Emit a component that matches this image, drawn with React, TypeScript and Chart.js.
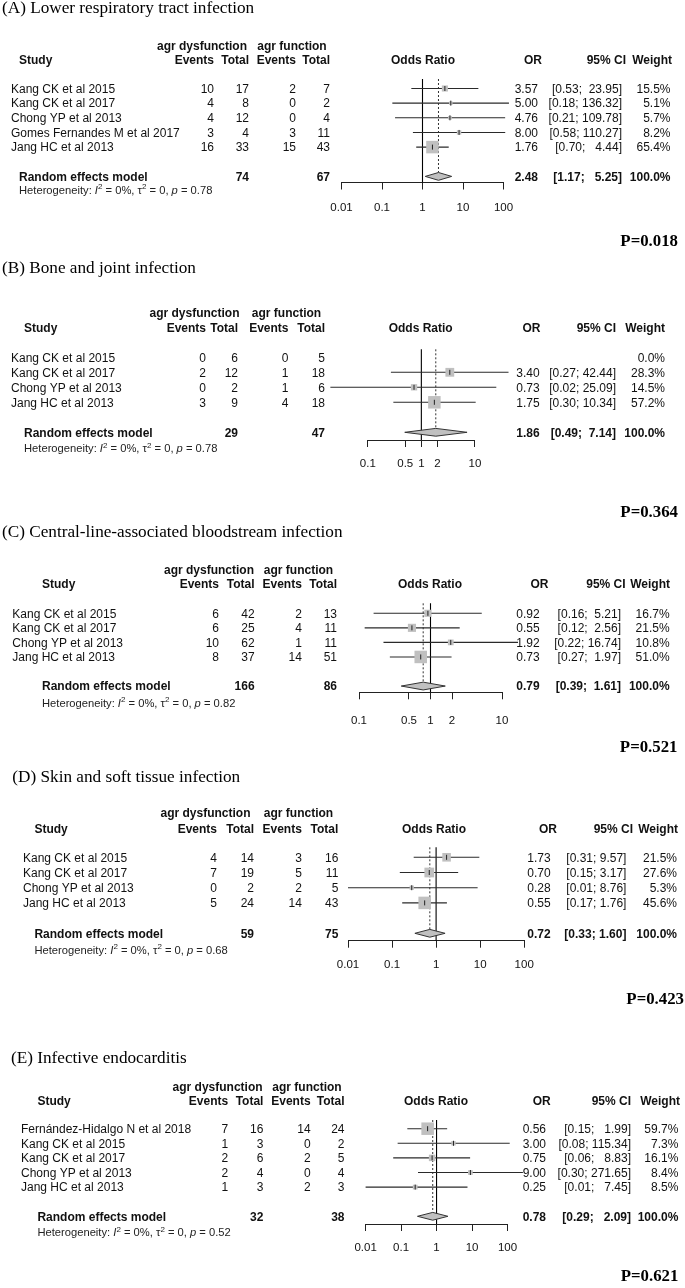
import React, { useEffect, useRef } from "react";
import { Chart, registerables } from "chart.js";

Chart.register(...registerables);

const SANS = '"Liberation Sans", Arial, Helvetica, sans-serif';
const SERIF = '"Liberation Serif", "Times New Roman", serif';

// ---------- shared ----------
const panelTitles = [
  "(A) Lower respiratory tract infection",
  "(B) Bone and joint infection",
  "(C) Central-line-associated bloodstream infection",
  "(D) Skin and soft tissue infection",
  "(E) Infective endocarditis",
];
const overallP = [0.018, 0.364, 0.521, 0.423, 0.621];

const ticksWide = [0.01, 0.1, 1, 10, 100];
const tickLabelsWide = ["0.01", "0.1", "1", "10", "100"];
const ticksNarrow = [0.1, 0.5, 1, 2, 10];
const tickLabelsNarrow = ["0.1", "0.5", "1", "2", "10"];

// ---------- (A) Lower respiratory tract infection ----------
const studiesA = ["Kang CK et al 2015", "Kang CK et al 2017", "Chong YP et al 2013", "Gomes Fernandes M et al 2017", "Jang HC et al 2013"];
const eventsDysA = [10, 4, 4, 3, 16];
const totalDysA = [17, 8, 12, 4, 33];
const eventsFunA = [2, 0, 0, 3, 15];
const totalFunA = [7, 2, 4, 11, 43];
const orA = [3.57, 5.0, 4.76, 8.0, 1.76];
const lowA = [0.53, 0.18, 0.21, 0.58, 0.7];
const highA = [23.95, 136.32, 109.78, 110.27, 4.44];
const weightA = [15.5, 5.1, 5.7, 8.2, 65.4];
const summaryA = [2.48, 1.17, 5.25];
const totalsA = [74, 67];
const hetA = [0, 0, 0.78];

// ---------- (B) Bone and joint infection ----------
const studiesB = ["Kang CK et al 2015", "Kang CK et al 2017", "Chong YP et al 2013", "Jang HC et al 2013"];
const eventsDysB = [0, 2, 0, 3];
const totalDysB = [6, 12, 2, 9];
const eventsFunB = [0, 1, 1, 4];
const totalFunB = [5, 18, 6, 18];
const orB = [null, 3.4, 0.73, 1.75];
const lowB = [null, 0.27, 0.02, 0.3];
const highB = [null, 42.44, 25.09, 10.34];
const weightB = [0.0, 28.3, 14.5, 57.2];
const summaryB = [1.86, 0.49, 7.14];
const totalsB = [29, 47];
const hetB = [0, 0, 0.78];

// ---------- (C) Central-line-associated bloodstream infection ----------
const studiesC = ["Kang CK et al 2015", "Kang CK et al 2017", "Chong YP et al 2013", "Jang HC et al 2013"];
const eventsDysC = [6, 6, 10, 8];
const totalDysC = [42, 25, 62, 37];
const eventsFunC = [2, 4, 1, 14];
const totalFunC = [13, 11, 11, 51];
const orC = [0.92, 0.55, 1.92, 0.73];
const lowC = [0.16, 0.12, 0.22, 0.27];
const highC = [5.21, 2.56, 16.74, 1.97];
const weightC = [16.7, 21.5, 10.8, 51.0];
const summaryC = [0.79, 0.39, 1.61];
const totalsC = [166, 86];
const hetC = [0, 0, 0.82];

// ---------- (D) Skin and soft tissue infection ----------
const studiesD = ["Kang CK et al 2015", "Kang CK et al 2017", "Chong YP et al 2013", "Jang HC et al 2013"];
const eventsDysD = [4, 7, 0, 5];
const totalDysD = [14, 19, 2, 24];
const eventsFunD = [3, 5, 2, 14];
const totalFunD = [16, 11, 5, 43];
const orD = [1.73, 0.7, 0.28, 0.55];
const lowD = [0.31, 0.15, 0.01, 0.17];
const highD = [9.57, 3.17, 8.76, 1.76];
const weightD = [21.5, 27.6, 5.3, 45.6];
const summaryD = [0.72, 0.33, 1.6];
const totalsD = [59, 75];
const hetD = [0, 0, 0.68];

// ---------- (E) Infective endocarditis ----------
const studiesE = ["Fernández-Hidalgo N et al 2018", "Kang CK et al 2015", "Kang CK et al 2017", "Chong YP et al 2013", "Jang HC et al 2013"];
const eventsDysE = [7, 1, 2, 2, 1];
const totalDysE = [16, 3, 6, 4, 3];
const eventsFunE = [14, 0, 2, 0, 2];
const totalFunE = [24, 2, 5, 4, 3];
const orE = [0.56, 3.0, 0.75, 9.0, 0.25];
const lowE = [0.15, 0.08, 0.06, 0.3, 0.01];
const highE = [1.99, 115.34, 8.83, 271.65, 7.45];
const weightE = [59.7, 7.3, 16.1, 8.4, 8.5];
const summaryE = [0.78, 0.29, 2.09];
const totalsE = [32, 38];
const hetE = [0, 0, 0.52];

// ---------- layout (pixel positions only) ----------
type Lay = {
  H: number; titleX: number; titleY: number; hdr1: number; hdr2: number; row0: number; step: number;
  vTop: number; axisY: number; labPad: number; hetY: number; pY: number; pR: number; minPx: number; maxPx: number;
  nameX: number; studyX: number; ev1: number; tot1: number; ev2: number; tot2: number; dysC: number; funC: number;
  orC: number; orHdrR: number; orR: number; ciHdrR: number; ciR: number; wHdrR: number; wR: number;
};

const layA: Lay = { H: 260, titleX: 2, titleY: 13, hdr1: 45.3, hdr2: 60, row0: 88.5, step: 14.65, vTop: 79, axisY: 182.5, labPad: 11, hetY: 190, pY: 240, pR: 678, minPx: 341.5, maxPx: 503.5, nameX: 11, studyX: 19, ev1: 214, tot1: 249, ev2: 296, tot2: 330, dysC: 202, funC: 292, orC: 423, orHdrR: 542, orR: 538, ciHdrR: 626, ciR: 622, wHdrR: 672, wR: 670.5 };
const layB: Lay = { H: 260, titleX: 2, titleY: 13, hdr1: 53, hdr2: 68, row0: 97.3, step: 15, vTop: 89.3, axisY: 180, labPad: 10, hetY: 188.3, pY: 251.7, pR: 678, minPx: 367.8, maxPx: 474.9, nameX: 11, studyX: 24, ev1: 206, tot1: 238, ev2: 288.5, tot2: 325, dysC: 194.5, funC: 286.5, orC: 420.7, orHdrR: 540.5, orR: 539.6, ciHdrR: 616, ciR: 616, wHdrR: 665, wR: 665 };
const layC: Lay = { H: 240, titleX: 2, titleY: 17, hdr1: 49.3, hdr2: 63.3, row0: 93.3, step: 14.55, vTop: 83.3, axisY: 172.3, labPad: 15, hetY: 182.7, pY: 226, pR: 677.5, minPx: 359, maxPx: 502, nameX: 12.3, studyX: 42, ev1: 219, tot1: 254.6, ev2: 301.8, tot2: 337, dysC: 209, funC: 298.5, orC: 430, orHdrR: 548.5, orR: 539.6, ciHdrR: 625.6, ciR: 621, wHdrR: 670, wR: 669.6 };
const layD: Lay = { H: 260, titleX: 12.3, titleY: 21.7, hdr1: 52.7, hdr2: 68.3, row0: 97.3, step: 15.2, vTop: 87.3, axisY: 180.7, labPad: 10, hetY: 190, pY: 238.3, pR: 684, minPx: 348, maxPx: 524.2, nameX: 23, studyX: 34.4, ev1: 217, tot1: 254, ev2: 301.8, tot2: 338.3, dysC: 205.5, funC: 298.5, orC: 434, orHdrR: 557, orR: 550.7, ciHdrR: 633, ciR: 626.4, wHdrR: 678, wR: 677 };
const layE: Lay = { H: 268, titleX: 11, titleY: 42.7, hdr1: 66.7, hdr2: 81, row0: 108.7, step: 14.6, vTop: 100, axisY: 204, labPad: 10, hetY: 212.3, pY: 255, pR: 678.4, minPx: 365.6, maxPx: 507.5, nameX: 21, studyX: 37.4, ev1: 228.2, tot1: 263.4, ev2: 310.6, tot2: 344.5, dysC: 217.6, funC: 307, orC: 436, orHdrR: 550.7, orR: 546, ciHdrR: 631, ciR: 631, wHdrR: 680, wR: 678.4 };

type Panel = {
  title: string; p: number; studies: string[]; evD: number[]; totD: number[]; evF: number[]; totF: number[];
  or: (number | null)[]; lo: (number | null)[]; hi: (number | null)[]; w: number[];
  sum: number[]; tot: number[]; het: number[]; ticks: number[]; tickLabels: string[]; lay: Lay;
};

const panels: Panel[] = [
  { title: panelTitles[0], p: overallP[0], studies: studiesA, evD: eventsDysA, totD: totalDysA, evF: eventsFunA, totF: totalFunA, or: orA, lo: lowA, hi: highA, w: weightA, sum: summaryA, tot: totalsA, het: hetA, ticks: ticksWide, tickLabels: tickLabelsWide, lay: layA },
  { title: panelTitles[1], p: overallP[1], studies: studiesB, evD: eventsDysB, totD: totalDysB, evF: eventsFunB, totF: totalFunB, or: orB, lo: lowB, hi: highB, w: weightB, sum: summaryB, tot: totalsB, het: hetB, ticks: ticksNarrow, tickLabels: tickLabelsNarrow, lay: layB },
  { title: panelTitles[2], p: overallP[2], studies: studiesC, evD: eventsDysC, totD: totalDysC, evF: eventsFunC, totF: totalFunC, or: orC, lo: lowC, hi: highC, w: weightC, sum: summaryC, tot: totalsC, het: hetC, ticks: ticksNarrow, tickLabels: tickLabelsNarrow, lay: layC },
  { title: panelTitles[3], p: overallP[3], studies: studiesD, evD: eventsDysD, totD: totalDysD, evF: eventsFunD, totF: totalFunD, or: orD, lo: lowD, hi: highD, w: weightD, sum: summaryD, tot: totalsD, het: hetD, ticks: ticksWide, tickLabels: tickLabelsWide, lay: layD },
  { title: panelTitles[4], p: overallP[4], studies: studiesE, evD: eventsDysE, totD: totalDysE, evF: eventsFunE, totF: totalFunE, or: orE, lo: lowE, hi: highE, w: weightE, sum: summaryE, tot: totalsE, het: hetE, ticks: ticksWide, tickLabels: tickLabelsWide, lay: layE },
];

// ---------- helpers ----------
const TXT = "#111";
const SX = 1.0;

function drawText(ctx: CanvasRenderingContext2D, s: string, x: number, y: number, align: string, font: string, sx = SX, color = TXT) {
  ctx.save();
  ctx.font = font;
  ctx.fillStyle = color;
  ctx.textBaseline = "alphabetic";
  ctx.textAlign = "left";
  const w = ctx.measureText(s).width * sx;
  const x0 = align === "right" ? x - w : align === "center" ? x - w / 2 : x;
  ctx.translate(x0, y);
  ctx.scale(sx, 1);
  ctx.fillText(s, 0, 0);
  ctx.restore();
  return w;
}

const f2 = (v: number) => v.toFixed(2);

function ciStrings(lo: (number | null)[], hi: (number | null)[], sum: number[]) {
  const los = [...lo, sum[1]].map((v) => (v == null ? "" : f2(v)));
  const his = [...hi, sum[2]].map((v) => (v == null ? "" : f2(v)));
  const ml = Math.max(...los.map((s) => s.length));
  const mh = Math.max(...his.map((s) => s.length));
  return los.map((l, i) => (l === "" ? "" : `[${l.padStart(ml)}; ${his[i].padStart(mh)}]`));
}

function buildConfig(p: Panel): any {
  const L = p.lay;
  const n = p.studies.length;
  const sumIdx = n + 1;
  const yMin = -(L.row0 - L.vTop) / L.step;
  const yMax = (L.axisY - L.row0) / L.step;
  const wMax = Math.max(...p.w);
  const boxSide = (w: number) => Math.max(2.8, 12.5 * Math.sqrt(w / wMax));
  const diamondH = 3.9;
  const cis = ciStrings(p.lo, p.hi, p.sum);

  const pts = p.or
    .map((v, i) => (v == null ? null : { x: v, y: i, w: p.w[i] }))
    .filter((d) => d != null);

  const datasets: any[] = [];
  datasets.push({
    data: pts,
    pointStyle: "line",
    pointRotation: 90,
    pointRadius: 2.5,
    pointBorderColor: "#222",
    pointBorderWidth: 1,
    order: 0,
    clip: false,
  });
  datasets.push({
    data: pts,
    pointStyle: "rect",
    pointRadius: (c: any) => (c.raw ? boxSide(c.raw.w) / Math.SQRT2 : 0),
    pointBackgroundColor: "#c0c0c0",
    pointBorderColor: "#c0c0c0",
    pointBorderWidth: 0,
    order: 1,
    clip: false,
  });
  p.or.forEach((v, i) => {
    if (v == null) return;
    datasets.push({
      data: [{ x: p.lo[i], y: i }, { x: p.hi[i], y: i }],
      showLine: true,
      pointRadius: 0,
      borderColor: "#2a2a2a",
      borderWidth: 1.1,
      order: 3,
      clip: false,
    });
  });
  datasets.push({
    data: [{ x: 1, y: yMin }, { x: 1, y: yMax }],
    showLine: true,
    pointRadius: 0,
    borderColor: "#000",
    borderWidth: 1.1,
    order: 4,
    clip: false,
  });
  datasets.push({
    data: [{ x: p.sum[0], y: yMin }, { x: p.sum[0], y: sumIdx - diamondH / L.step }],
    showLine: true,
    pointRadius: 0,
    borderColor: "#333",
    borderWidth: 1,
    borderDash: [2, 2],
    order: 4,
    clip: false,
  });

  const diamond = {
    id: "diamond",
    afterDatasetsDraw(chart: any) {
      const ctx = chart.ctx;
      const xs = chart.scales.x;
      const ys = chart.scales.y;
      const yc = ys.getPixelForValue(sumIdx);
      const xe = xs.getPixelForValue(p.sum[0]);
      ctx.save();
      ctx.beginPath();
      ctx.moveTo(xs.getPixelForValue(p.sum[1]), yc);
      ctx.lineTo(xe, yc - diamondH);
      ctx.lineTo(xs.getPixelForValue(p.sum[2]), yc);
      ctx.lineTo(xe, yc + diamondH);
      ctx.closePath();
      ctx.fillStyle = "#c0c0c0";
      ctx.fill();
      ctx.strokeStyle = "#333";
      ctx.lineWidth = 1;
      ctx.stroke();
      ctx.restore();
    },
  };

  const texts = {
    id: "forestText",
    afterDraw(chart: any) {
      const ctx: CanvasRenderingContext2D = chart.ctx;
      const ys = chart.scales.y;
      const base = (i: number) => ys.getPixelForValue(i) + 4.3;
      const F = `12px ${SANS}`;
      const FB = `bold 12px ${SANS}`;

      drawText(ctx, p.title, L.titleX, L.titleY, "left", `16px ${SERIF}`, 1.075, "#000");

      const h1 = L.hdr1 + 4.3;
      drawText(ctx, "agr dysfunction", L.dysC, h1, "center", FB);
      drawText(ctx, "agr function", L.funC, h1, "center", FB);
      const h2 = L.hdr2 + 4.3;
      drawText(ctx, "Study", L.studyX, h2, "left", FB);
      drawText(ctx, "Events", L.ev1, h2, "right", FB);
      drawText(ctx, "Total", L.tot1, h2, "right", FB);
      drawText(ctx, "Events", L.ev2, h2, "right", FB);
      drawText(ctx, "Total", L.tot2, h2, "right", FB);
      drawText(ctx, "Odds Ratio", L.orC, h2, "center", FB);
      drawText(ctx, "OR", L.orHdrR, h2, "right", FB);
      drawText(ctx, "95% CI", L.ciHdrR, h2, "right", FB);
      drawText(ctx, "Weight", L.wHdrR, h2, "right", FB);

      p.studies.forEach((s, i) => {
        const y = base(i);
        drawText(ctx, s, L.nameX, y, "left", F);
        drawText(ctx, String(p.evD[i]), L.ev1, y, "right", F);
        drawText(ctx, String(p.totD[i]), L.tot1, y, "right", F);
        drawText(ctx, String(p.evF[i]), L.ev2, y, "right", F);
        drawText(ctx, String(p.totF[i]), L.tot2, y, "right", F);
        const o = p.or[i];
        if (o != null) {
          drawText(ctx, f2(o), L.orR, y, "right", F);
          drawText(ctx, cis[i], L.ciR, y, "right", F);
        }
        drawText(ctx, `${p.w[i].toFixed(1)}%`, L.wR, y, "right", F);
      });

      const ys2 = base(sumIdx);
      drawText(ctx, "Random effects model", L.studyX, ys2, "left", FB);
      drawText(ctx, String(p.tot[0]), L.tot1, ys2, "right", FB);
      drawText(ctx, String(p.tot[1]), L.tot2, ys2, "right", FB);
      drawText(ctx, f2(p.sum[0]), L.orR, ys2, "right", FB);
      drawText(ctx, cis[n], L.ciR, ys2, "right", FB);
      drawText(ctx, "100.0%", L.wR, ys2, "right", FB);

      // heterogeneity line
      const hb = L.hetY + 4;
      const hs = 11.2;
      const hsx = 1.0;
      const HF = `${hs}px ${SANS}`;
      const HI = `italic ${hs}px ${SANS}`;
      const HS = `8px ${SANS}`;
      let x = L.studyX;
      const parts: [string, string, number][] = [
        ["Heterogeneity: ", HF, 0],
        ["I", HI, 0],
        ["2", HS, -4.8],
        [` = ${p.het[0]}%, `, HF, 0],
        ["\u03c4", HF, 0],
        ["2", HS, -4.8],
        [` = ${p.het[1]}, `, HF, 0],
        ["p", HI, 0],
        [` = ${p.het[2].toFixed(2)}`, HF, 0],
      ];
      parts.forEach(([s, f, dy]) => {
        x += drawText(ctx, s, x, hb + dy, "left", f, hsx, "#222");
      });

      drawText(ctx, `P=${p.p.toFixed(3)}`, L.pR, L.pY + 5.5, "right", `bold 16px ${SERIF}`, 1.05, "#000");
    },
  };

  return {
    type: "scatter",
    data: { datasets },
    options: {
      animation: false,
      responsive: false,
      devicePixelRatio: 1,
      events: [],
      layout: { padding: { left: L.minPx, right: 685 - L.maxPx, top: L.vTop, bottom: 0 } },
      plugins: { legend: { display: false }, tooltip: { enabled: false }, title: { display: false } },
      scales: {
        x: {
          type: "logarithmic",
          position: "bottom",
          min: p.ticks[0],
          max: p.ticks[p.ticks.length - 1],
          afterBuildTicks: (s: any) => {
            s.ticks = p.ticks.map((v) => ({ value: v }));
          },
          afterFit: (s: any) => {
            s.height = L.H - L.axisY;
          },
          ticks: {
            autoSkip: false,
            maxRotation: 0,
            minRotation: 0,
            padding: L.labPad,
            color: "#111",
            font: { family: SANS, size: 11.5 },
            callback: (_v: any, i: number) => p.tickLabels[i],
          },
          grid: { display: true, drawOnChartArea: false, drawTicks: true, tickLength: 7, color: "#222", lineWidth: 1 },
          border: { display: true, color: "#222", width: 1 },
        },
        y: { type: "linear", display: false, reverse: true, min: yMin, max: yMax },
      },
    },
    plugins: [diamond, texts],
  };
}

function ForestPanel({ p, top }: { p: Panel; top: number }) {
  const ref = useRef<HTMLCanvasElement>(null);
  useEffect(() => {
    if (!ref.current) return;
    const chart = new Chart(ref.current, buildConfig(p));
    return () => chart.destroy();
  }, [p]);
  return (
    <canvas
      ref={ref}
      width={685}
      height={p.lay.H}
      style={{ position: "absolute", left: 0, top, width: 685, height: p.lay.H, display: "block" }}
    />
  );
}

export default function App() {
  let top = 0;
  const items = panels.map((p, i) => {
    const t = top;
    top += p.lay.H;
    return <ForestPanel key={i} p={p} top={t} />;
  });
  return (
    <div style={{ position: "absolute", left: 0, top: 0, width: 685, height: 1288, background: "#fff", overflow: "hidden" }}>
      {items}
    </div>
  );
}
